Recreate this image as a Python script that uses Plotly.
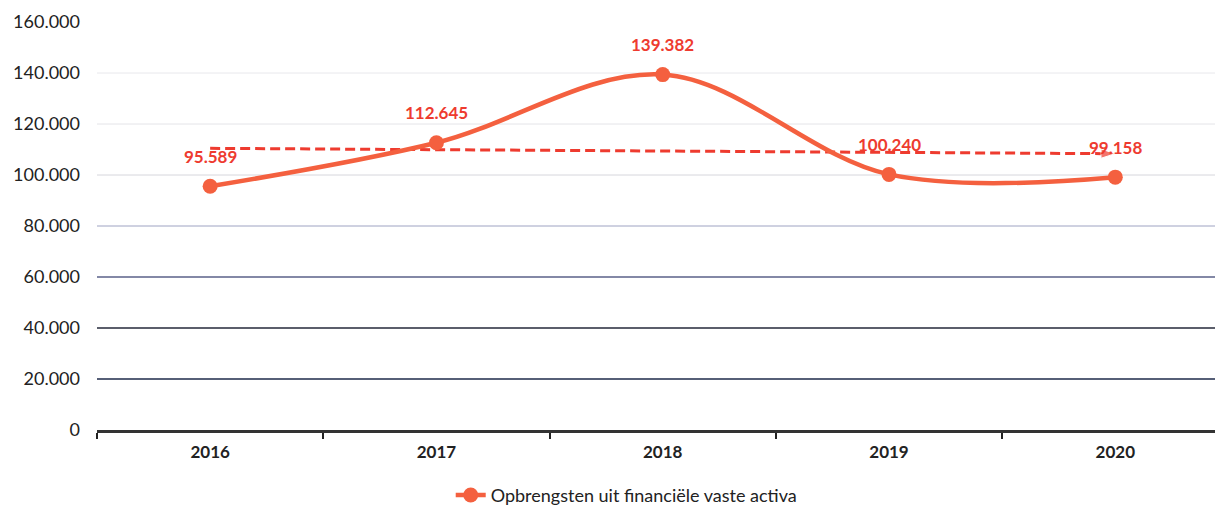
import numpy as np
import plotly.graph_objects as go

years = ["2016", "2017", "2018", "2019", "2020"]
values = [95589, 112645, 139382, 100240, 99158]
series_name = "Opbrengsten uit financiële vaste activa"
y_ticks = [0, 20000, 40000, 60000, 80000, 100000, 120000, 140000, 160000]
grid_colors = ["#1f2733", "#1e2a4a", "#25283a", "#5a6088", "#9ea3c2", "#d6d6dc", "#e4e4e8", "#e8e8ec", "#ffffff"]
grid_widths = [3, 1.6, 1.6, 1.3, 1, 1, 1, 1, 1]

idx = np.arange(len(values))
slope, intercept = np.polyfit(idx, values, 1)
trend = [slope * i + intercept for i in idx]

FONT = "Lato, Open Sans, sans-serif"
fig = go.Figure()

# gridlines
for v, c, w in zip(y_ticks[1:], grid_colors[1:], grid_widths[1:]):
    fig.add_shape(type="line", xref="paper", x0=0, x1=1, yref="y", y0=v, y1=v,
                  line=dict(color=c, width=w), layer="below")

fig.add_trace(go.Scatter(
    x=years, y=trend, mode="lines+markers",
    line=dict(color="#EE3B2F", width=3, dash="10px,5px"),
    marker=dict(symbol=["circle"] * (len(years) - 1) + ["arrow"], angleref="previous",
                size=[0] * (len(years) - 1) + [15], color="#EE3B2F"),
    showlegend=False, hoverinfo="skip"))

fig.add_trace(go.Scatter(
    x=years, y=values, mode="lines+markers", name=series_name,
    line=dict(color="#F4603F", width=4.5, shape="spline", smoothing=1.0),
    marker=dict(size=15, color="#F4603F")))

for i, v in enumerate(values):
    fig.add_annotation(x=i, y=v, text=f"{v:,}".replace(",", "."), showarrow=False,
                       yshift=30, font=dict(family=FONT, size=17, color="#EE3B2F", weight="bold"))

fig.update_layout(
    width=1215, height=500,
    margin=dict(l=89, r=0, t=14, b=78, autoexpand=False),
    paper_bgcolor="white", plot_bgcolor="white",
    separators=",.",
    font=dict(family=FONT, size=15, color="#222"),
    legend=dict(orientation="h", x=0.47, xanchor="center", y=-0.16, yanchor="middle",
                font=dict(size=18, color="#222")),
    xaxis=dict(type="category", range=[-0.5, 4.476], showgrid=False, tickson="boundaries",
               ticks="outside", ticklen=6, tickwidth=2, tickcolor="#222",
               showline=True, linecolor="#333", linewidth=3, automargin=False,
               ticklabelstandoff=5,
               tickfont=dict(size=17, color="#222", weight="bold")),
    yaxis=dict(range=[0, 160000], tickvals=y_ticks, tickformat=",.0f", showgrid=False,
               zeroline=False, showline=False, ticks="", ticklabelstandoff=16, automargin=False,
               tickfont=dict(size=18, color="#222")),
)

fig.write_html("out.html")
